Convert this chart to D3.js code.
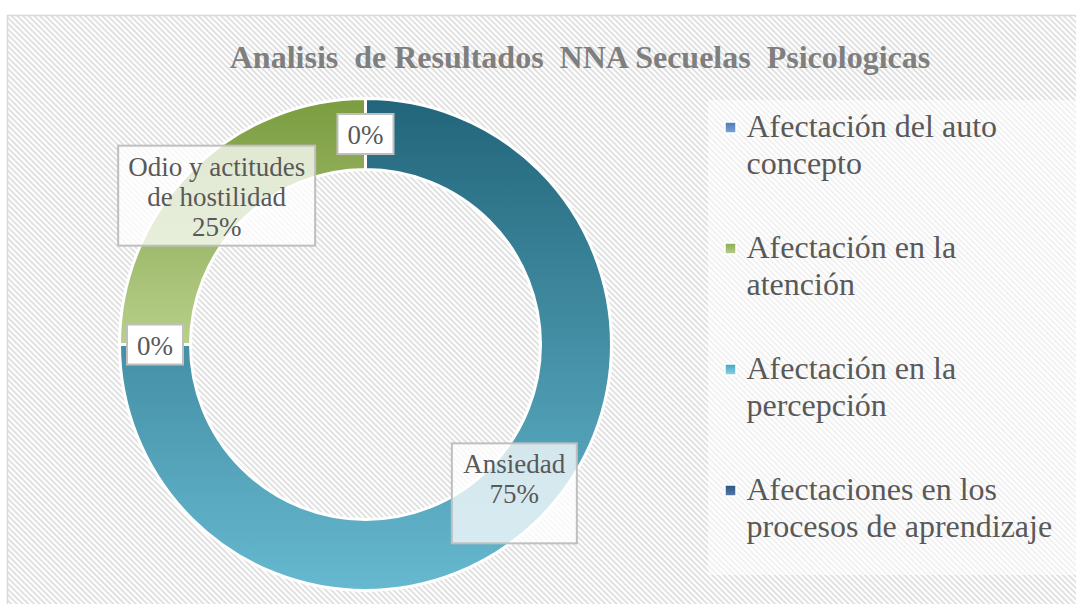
<!DOCTYPE html>
<html lang="es">
<head>
  <meta charset="utf-8">
  <title>Analisis de Resultados NNA Secuelas Psicologicas</title>
  <script src="https://d3js.org/d3.v7.min.js"></script>
  <style>
    body { margin: 0; background: #fff; }
    #chart text { font-family: "Liberation Serif", "Times New Roman", serif; fill: #595959; }
  </style>
</head>
<body>
  <div id="chart"></div>

  <script>
    "use strict"

    // datos del grafico
    var titulo = "Analisis  de Resultados  NNA Secuelas  Psicologicas";
    var categorias = [
      "Afectación del auto concepto",
      "Afectación en la atención",
      "Afectación en la percepción",
      "Afectaciones en los procesos de aprendizaje"
    ];
    var valores = [0, 25, 0, 75];
    var etiquetas = ["", "Odio y actitudes de hostilidad", "", "Ansiedad"];

    // colores (arriba, abajo) de los sectores y de los marcadores
    var coloresAnillo = [["#4f7cba", "#7ba0d4"], ["#7b9c3f", "#b8d08b"], ["#3f9db8", "#8cccdd"], ["#22657a", "#66b9d0"]];
    var coloresLeyenda = [["#4a78b8", "#7ea2d6"], ["#88ab50", "#b7d08b"], ["#3fa5c1", "#90d2e4"], ["#2a5385", "#5479ac"]];

    var ancho = 1076, alto = 604;
    var centro = {x: 365.5, y: 344.5};
    var rInterno = 175, rExterno = 246;

    var svg = d3.select('#chart')
      .append('svg')
        .attr('width', ancho)
        .attr('height', alto);

    var defs = svg.append('defs');

    // fondo rayado
    var rayado = defs.append('pattern')
      .attr('id', 'rayado')
      .attr('patternUnits', 'userSpaceOnUse')
      .attr('width', 4)
      .attr('height', 4)
      .attr('patternTransform', 'rotate(-45)');
    rayado.append('rect').attr('width', 4).attr('height', 4).attr('fill', '#ffffff');
    rayado.append('rect').attr('width', 2).attr('height', 4).attr('fill', '#e1e1e1');

    svg.append('rect')
      .attr('x', 7.5).attr('y', 15.5)
      .attr('width', 1100).attr('height', 700)
      .attr('fill', 'url(#rayado)')
      .attr('stroke', '#d9d9d9')
      .attr('stroke-width', 1.5);

    // gradientes verticales
    function gradiente(id, par) {
      var g = defs.append('linearGradient')
        .attr('id', id)
        .attr('x1', 0).attr('y1', 0).attr('x2', 0).attr('y2', 1);
      g.append('stop').attr('offset', '0%').attr('stop-color', par[0]);
      g.append('stop').attr('offset', '100%').attr('stop-color', par[1]);
    }
    coloresAnillo.forEach(function(c, i) { gradiente('anillo-' + i, c); });
    coloresLeyenda.forEach(function(c, i) { gradiente('leyenda-' + i, c); });

    // titulo
    svg.append('text')
      .attr('x', 580)
      .attr('y', 68)
      .attr('text-anchor', 'middle')
      .style('white-space', 'pre')
      .style('font-size', '32px')
      .style('font-weight', 'bold')
      .style('fill', '#7f7f7f')
      .text(titulo);

    // anillo
    var pie = d3.pie()
      .sort(null)
      .startAngle(-Math.PI / 2)
      .endAngle(3 * Math.PI / 2);
    var arco = d3.arc().innerRadius(rInterno).outerRadius(rExterno);

    var datos = categorias.map(function(c, i) {
      return {categoria: c, valor: valores[i], etiqueta: etiquetas[i], i: i};
    });
    var sectores = pie.value(function(d) { return d.valor; })(datos);
    var total = d3.sum(valores);
    var porcentaje = d3.format('.0%');

    var grafico = svg.append('g')
      .attr('transform', 'translate(' + centro.x + ',' + centro.y + ')');

    grafico.selectAll('path')
      .data(sectores)
      .enter()
      .append('path')
        .attr('d', arco)
        .attr('fill', function(d) { return 'url(#anillo-' + d.data.i + ')'; })
        .attr('stroke', '#ffffff')
        .attr('stroke-width', 3);

    // parte un texto en lineas segun un ancho maximo
    function partir(texto, maximo, tamano) {
      var prueba = svg.append('text').style('font-size', tamano + 'px');
      var palabras = texto.split(' '), lineas = [], actual = '';
      palabras.forEach(function(p) {
        var nueva = actual ? actual + ' ' + p : p;
        prueba.text(nueva);
        if (actual && prueba.node().getComputedTextLength() > maximo) {
          lineas.push(actual);
          actual = p;
        } else {
          actual = nueva;
        }
      });
      if (actual) lineas.push(actual);
      prueba.remove();
      return lineas;
    }

    // etiquetas de datos
    var etiqueta = grafico.selectAll('g.etiqueta')
      .data(sectores)
      .enter()
      .append('g')
        .attr('class', 'etiqueta')
        .attr('transform', function(d) { return 'translate(' + arco.centroid(d) + ')'; });

    etiqueta.each(function(d) {
      var g = d3.select(this);
      var lineas = d.data.etiqueta ? partir(d.data.etiqueta, 185, 27) : [];
      lineas.push(porcentaje(d.data.valor / total));

      var caja = g.append('rect');
      var texto = g.append('text')
        .attr('text-anchor', 'middle')
        .style('font-size', '27px');
      var alturaCaja = lineas.length > 1 ? 100 : 40;
      var arriba = -alturaCaja / 2;
      lineas.forEach(function(l, k) {
        texto.append('tspan')
          .attr('x', 0)
          .attr('y', arriba + 30 + k * 30)
          .text(l);
      });
      var anchoTexto = texto.node().getBBox().width;
      var anchoCaja = Math.max(anchoTexto + 20, lineas.length > 1 ? 125 : 0);
      caja.attr('x', -anchoCaja / 2)
        .attr('y', arriba)
        .attr('width', anchoCaja)
        .attr('height', alturaCaja)
        .attr('fill', '#ffffff')
        .attr('fill-opacity', d.data.etiqueta ? 0.75 : 1)
        .attr('stroke', '#bfbfbf')
        .attr('stroke-width', 2);
    });

    // leyenda
    svg.append('rect')
      .attr('x', 708).attr('y', 100)
      .attr('width', 380).attr('height', 475)
      .attr('fill', '#ffffff')
      .attr('fill-opacity', 0.55);

    var leyenda = svg.append('g')
      .attr('transform', 'translate(725,137)');

    var item = leyenda.selectAll('g')
      .data(categorias)
      .enter()
      .append('g')
        .attr('transform', function(d, i) { return 'translate(0,' + (i * 121) + ')'; });

    item.append('rect')
      .attr('x', 0)
      .attr('y', -15)
      .attr('width', 11)
      .attr('height', 11)
      .attr('fill', function(d, i) { return 'url(#leyenda-' + i + ')'; })
      .attr('stroke', '#ffffff')
      .attr('stroke-width', 1.5);

    item.each(function(d) {
      var t = d3.select(this).append('text')
        .style('font-size', '32px');
      partir(d, 315, 32).forEach(function(l, k) {
        t.append('tspan')
          .attr('x', 21.5)
          .attr('y', k * 37)
          .text(l);
      });
    });
  </script>
</body>
</html>
